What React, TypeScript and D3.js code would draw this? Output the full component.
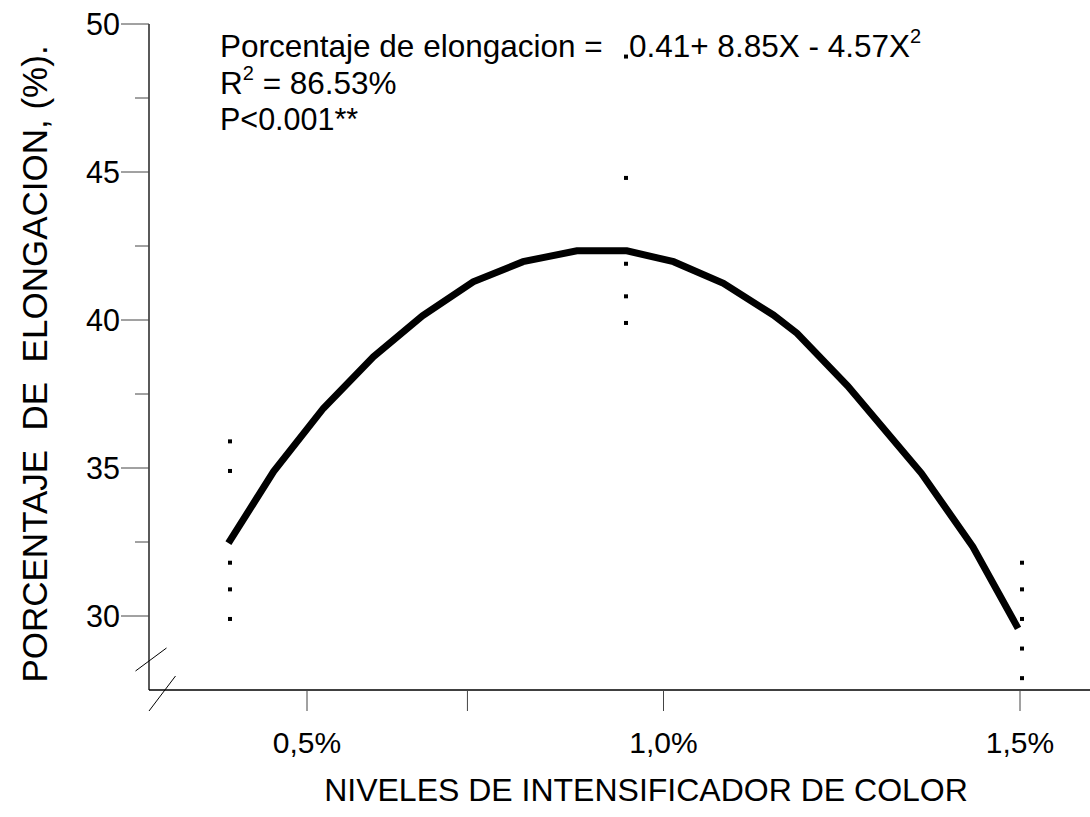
import React from "react";
import * as d3 from "d3";

// Fitted quadratic curve, sampled along the colour-intensifier level
const curveLevel = [0.498, 0.555, 0.618, 0.681, 0.743, 0.807, 0.87, 0.938, 1.001, 1.06, 1.123, 1.186, 1.216, 1.28, 1.373, 1.438, 1.495];
const curveElong = [32.46, 34.88, 37.02, 38.76, 40.14, 41.29, 41.97, 42.34, 42.34, 41.97, 41.24, 40.17, 39.55, 37.77, 34.82, 32.34, 29.58];

// Observed elongation values per level
const levels = [0.5, 1.0, 1.5];
const obs05 = [35.9, 34.9, 31.8, 30.9, 29.9];
const obs10 = [48.9, 44.8, 41.9, 40.8, 39.9];
const obs15 = [31.8, 30.9, 29.9, 28.9, 27.9];
const observed = [obs05, obs10, obs15];

// Axis ticks
const yMajorTicks = [30, 35, 40, 45, 50];
const yMinorTicks = [32.5, 37.5, 42.5, 47.5];
const xTickValues = [0.5, 0.725, 1.0, 1.5];
const xTickLabels = ["0,5%", "", "1,0%", "1,5%"];

const FONT = "'Liberation Sans', Arial, Helvetica, sans-serif";

export default function App() {
  const W = 1090;
  const H = 817;
  const axisX = 149;
  const axisY = 690;

  const y = d3.scaleLinear().domain([30, 50]).range([616, 24]);
  const xData = d3.scaleLinear().domain([0.5, 1.5]).range([230, 1022]);
  const xAxis = d3.scaleLinear().domain([0.5, 1.5]).range([307, 1020]);

  const line = d3
    .line<number>()
    .x((_, i) => xData(curveLevel[i]))
    .y((d) => y(d));

  const dotSize = 4;

  return (
    <svg
      width={W}
      height={H}
      viewBox={`0 0 ${W} ${H}`}
      style={{ position: "absolute", left: 0, top: 0, background: "#fff" }}
      fontFamily={FONT}
    >
      <rect x={0} y={0} width={W} height={H} fill="#fff" />

      {/* axes */}
      <line x1={axisX} y1={y(50)} x2={axisX} y2={axisY} stroke="#000" strokeWidth={1.3} />
      <line x1={axisX} y1={axisY} x2={W} y2={axisY} stroke="#000" strokeWidth={1.3} />

      {/* axis break marks */}
      <line x1={axisX - 13.5} y1={671} x2={axisX + 17.5} y2={648} stroke="#000" strokeWidth={1} />
      <line x1={axisX} y1={axisY + 21} x2={axisX + 26.5} y2={axisY - 14} stroke="#000" strokeWidth={1} />

      {/* y ticks */}
      {yMajorTicks.map((t) => (
        <g key={`ym${t}`}>
          <line x1={axisX - 28} x2={axisX} y1={y(t)} y2={y(t)} stroke="#444" strokeWidth={1} />
          <text x={axisX - 29} y={y(t)} dy="0.36em" textAnchor="end" fontSize={30.5} fill="#000">
            {t}
          </text>
        </g>
      ))}
      {yMinorTicks.map((t) => (
        <line key={`yn${t}`} x1={axisX - 14} x2={axisX} y1={y(t)} y2={y(t)} stroke="#444" strokeWidth={1} />
      ))}

      {/* x ticks */}
      {xTickValues.map((t, i) => (
        <g key={`x${t}`}>
          <line x1={xAxis(t)} x2={xAxis(t)} y1={axisY} y2={axisY + 21} stroke="#444" strokeWidth={1} />
          {xTickLabels[i] && (
            <text x={xAxis(t)} y={753} textAnchor="middle" fontSize={30} fill="#000">
              {xTickLabels[i]}
            </text>
          )}
        </g>
      ))}

      {/* axis titles */}
      <text x={W / 2 + 101} y={801} textAnchor="middle" fontSize={32} fill="#000">
        NIVELES DE INTENSIFICADOR DE COLOR
      </text>
      <text
        transform={`translate(47, 364) rotate(-90)`}
        textAnchor="middle"
        fontSize={35}
        fill="#000"
        style={{ whiteSpace: "pre" }}
      >
        {"PORCENTAJE  DE  ELONGACION, (%)."}
      </text>

      {/* observed points */}
      {observed.map((vals, gi) =>
        vals.map((v, j) => (
          <rect
            key={`p${gi}-${j}`}
            x={xData(levels[gi]) - dotSize / 2}
            y={y(v) - dotSize / 2}
            width={dotSize}
            height={dotSize}
            fill="#000"
          />
        ))
      )}

      {/* fitted curve */}
      <path d={line(curveElong) || ""} fill="none" stroke="#000" strokeWidth={7} strokeLinejoin="miter" />

      {/* equation */}
      <text x={220} y={57} fontSize={31.5} fill="#000" style={{ whiteSpace: "pre" }}>
        {"Porcentaje de elongacion =   0.41+ 8.85X - 4.57X"}
        <tspan fontSize={20} dy={-14}>2</tspan>
      </text>
      <text x={220} y={94} fontSize={31.5} fill="#000" style={{ whiteSpace: "pre" }}>
        R<tspan fontSize={20} dy={-14}>2</tspan>
        <tspan dy={14}>{" = 86.53%"}</tspan>
      </text>
      <text x={220} y={130} fontSize={30.5} fill="#000">
        P&lt;0.001**
      </text>
    </svg>
  );
}
